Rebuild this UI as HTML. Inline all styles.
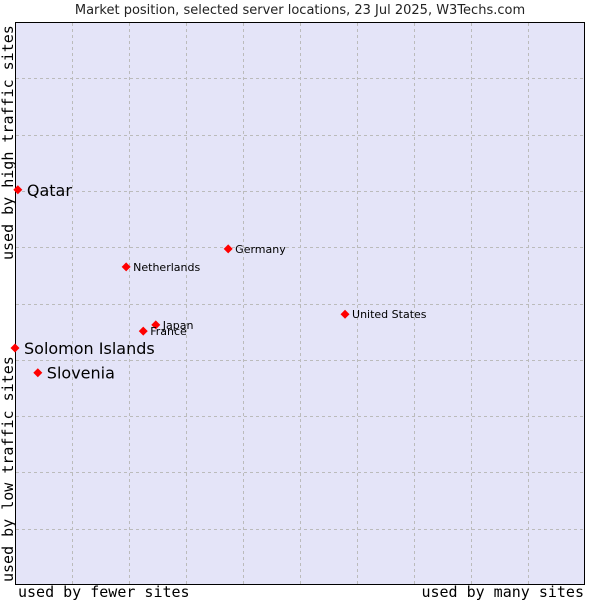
<!DOCTYPE html>
<html><head><meta charset="utf-8"><style>
body{margin:0;background:#fff;width:600px;height:600px;overflow:hidden;font-family:"DejaVu Sans",sans-serif}
</style></head><body>
<svg width="600" height="600">
<text x="300" y="14" text-anchor="middle" font-size="13" fill="#222">Market position, selected server locations, 23 Jul 2025, W3Techs.com</text>
<rect x="15.5" y="22.5" width="569" height="562" fill="#e4e4f8" stroke="#000"/>
<g id="grid"></g>
<text x="18" y="597" font-family="DejaVu Sans Mono,Liberation Mono,monospace" font-size="15" fill="#000">used by fewer sites</text>
<text x="584" y="597" text-anchor="end" font-family="DejaVu Sans Mono,Liberation Mono,monospace" font-size="15" fill="#000">used by many sites</text>
<text transform="translate(13,582) rotate(-90)" font-family="DejaVu Sans Mono,Liberation Mono,monospace" font-size="15" fill="#000">used by low traffic sites</text>
<text transform="translate(13,260) rotate(-90)" font-family="DejaVu Sans Mono,Liberation Mono,monospace" font-size="15" fill="#000">used by high traffic sites</text>
<g id="points"></g>
</svg>
<script>
const names=["Qatar","Solomon Islands","Slovenia","Netherlands","Germany","Japan","France","United States"];
const xs=[0.5,0,4,19.5,37.4,24.7,22.5,57.9];
const ys=[70.2,42.1,37.7,56.5,59.7,46.2,45.1,48.1];
const big=[true,true,true,false,false,false,false,false];
const X0=15,X1=585,Y0=585,Y1=22;
const sx=v=>X0+v/100*(X1-X0), sy=v=>Y0-v/100*(Y0-Y1);
const NS="http://www.w3.org/2000/svg";
const g=document.getElementById('grid');
for(let i=1;i<10;i++){
 let l=document.createElementNS(NS,'line');
 
 
 let x=Math.round(sx(i*10))+0.5;
 l.setAttribute('x1',x);l.setAttribute('x2',x);l.setAttribute('y1',23);l.setAttribute('y2',584);
 l.setAttribute('stroke','#bbb');l.setAttribute('stroke-dasharray','3,3');g.appendChild(l);
 let h=document.createElementNS(NS,'line');
 
 
 let y=Math.round(sy(i*10))+0.5;
 h.setAttribute('x1',16);h.setAttribute('x2',584);h.setAttribute('y1',y);h.setAttribute('y2',y);
 h.setAttribute('stroke','#bbb');h.setAttribute('stroke-dasharray','3,3');g.appendChild(h);
}
const p=document.getElementById('points');
names.forEach((n,i)=>{
 const x=sx(xs[i]),y=sy(ys[i]);
 const d=document.createElementNS(NS,'path');
 
 
 d.setAttribute('d',`M${x-4.5},${y} L${x},${y-4.5} L${x+4.5},${y} L${x},${y+4.5} Z`);
 d.setAttribute('fill','#f00');p.appendChild(d);
 const t=document.createElementNS(NS,'text');
 
 
 t.setAttribute('x',x+(big[i]?9:7));t.setAttribute('y',y+(big[i]?6:4));
 t.setAttribute('font-size',big[i]?16:11);t.setAttribute('fill','#000');
 t.textContent=n;p.appendChild(t);
});
</script>
</body></html>
